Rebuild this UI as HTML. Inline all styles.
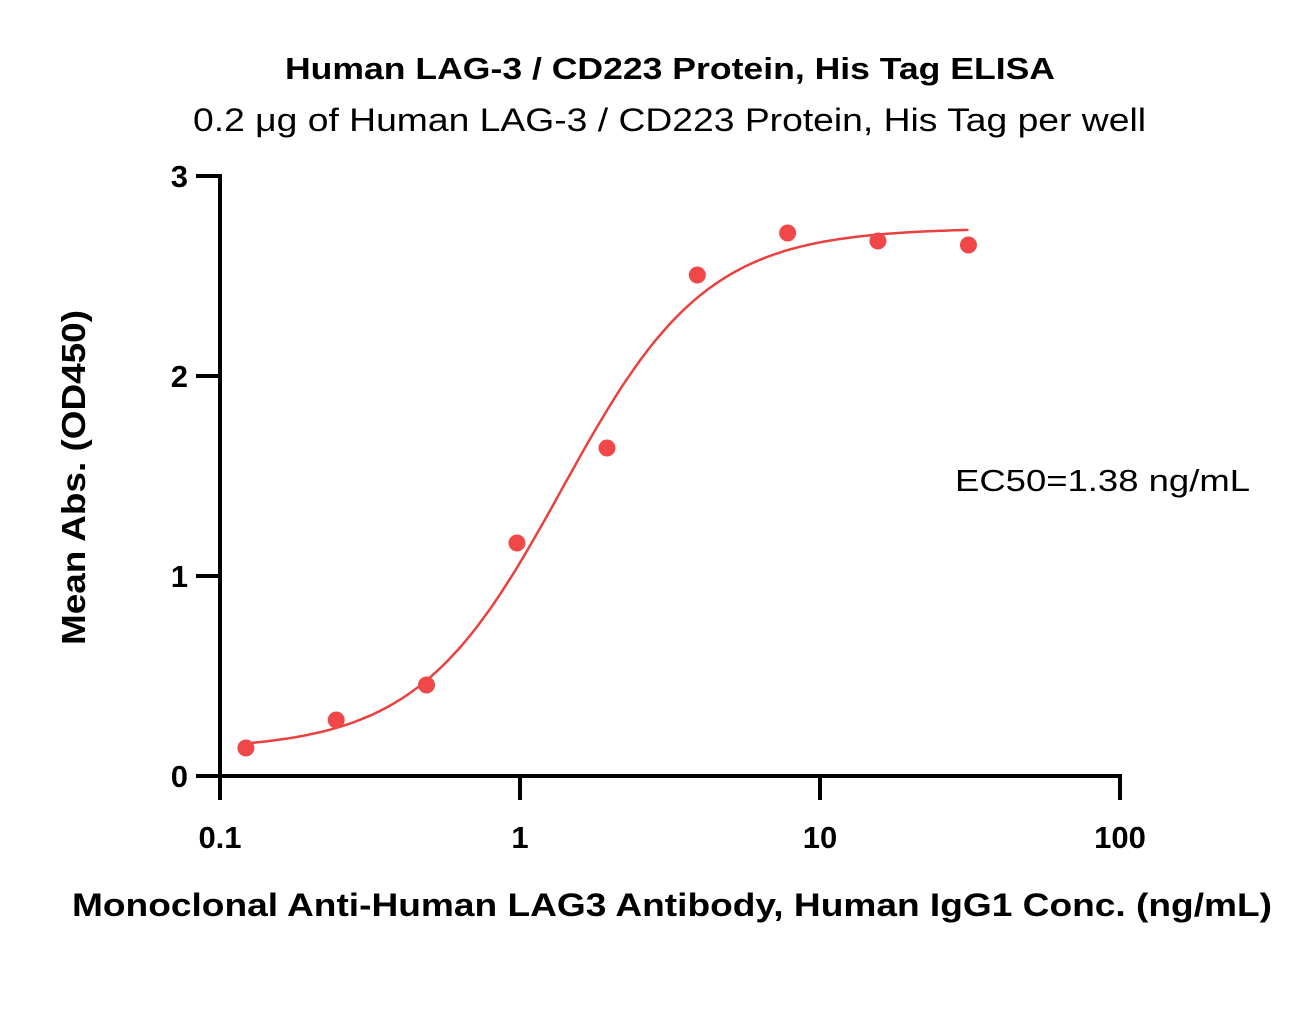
<!DOCTYPE html>
<html><head><meta charset="utf-8"><style>
html,body{margin:0;padding:0;background:#fff;}
svg{display:block;font-family:"Liberation Sans",sans-serif;}
</style></head><body>
<svg id="chart" width="1316" height="1023" viewBox="0 0 1316 1023">
<text x="285" y="79" textLength="770" lengthAdjust="spacingAndGlyphs" font-size="31" font-weight="bold">Human LAG-3 / CD223 Protein, His Tag ELISA</text>
<text x="193" y="131" textLength="953" lengthAdjust="spacingAndGlyphs" font-size="32">0.2 μg of Human LAG-3 / CD223 Protein, His Tag per well</text>
<text transform="translate(85,645) rotate(-90)" textLength="335" lengthAdjust="spacingAndGlyphs" font-size="33" font-weight="bold">Mean Abs. (OD450)</text>
<text x="72" y="916" textLength="1200" lengthAdjust="spacingAndGlyphs" font-size="32" font-weight="bold">Monoclonal Anti-Human LAG3 Antibody, Human IgG1 Conc. (ng/mL)</text>
<text x="955" y="491" textLength="295" lengthAdjust="spacingAndGlyphs" font-size="31">EC50=1.38 ng/mL</text>
<g id="axes"></g>
<g id="plot"></g>
</svg>
<script>
const xValues=[0.122,0.244,0.488,0.977,1.95,3.9,7.8,15.6,31.25];
const yValues=[0.14,0.28,0.455,1.165,1.64,2.505,2.715,2.675,2.655];
const fitParams=[0.13,2.74,1.38,1.8];
const xTicks=[0.1,1,10,100];
const xTickLabels=["0.1","1","10","100"];
const yTicks=[0,1,2,3];
const yTickLabels=["0","1","2","3"];
const NS="http://www.w3.org/2000/svg";
const X0=220,XW=300,Y0=776,YH=200;
function sx(v){return X0+Math.log10(v/0.1)*XW;}
function sy(v){return Y0-v*YH;}
function mk(tag,attrs,parent){const e=document.createElementNS(NS,tag);for(const k in attrs)e.setAttribute(k,attrs[k]);parent.appendChild(e);return e;}
const axesG=document.getElementById('axes'),plotG=document.getElementById('plot');
let ln=mk('line',{x1:X0,y1:sy(3)-2,x2:X0,y2:Y0+2,stroke:'#000','stroke-width':4},axesG);


ln=mk('line',{x1:X0-2,y1:Y0,x2:sx(100)+2,y2:Y0,stroke:'#000','stroke-width':4},axesG);


xTicks.forEach((t,i)=>{
 const tk=mk('line',{x1:sx(t),y1:Y0,x2:sx(t),y2:Y0+24,stroke:'#000','stroke-width':4},axesG);
 
 
 const tx=mk('text',{x:sx(t),y:Y0+72,'text-anchor':'middle','font-size':31,'font-weight':'bold'},axesG);
 tx.textContent=xTickLabels[i];
 
 
});
yTicks.forEach((t,i)=>{
 const tk=mk('line',{x1:X0-24,y1:sy(t),x2:X0,y2:sy(t),stroke:'#000','stroke-width':4},axesG);
 
 
 const tx=mk('text',{x:X0-32,y:sy(t)+11,'text-anchor':'end','font-size':31,'font-weight':'bold'},axesG);
 tx.textContent=yTickLabels[i];
 
 
});
const fBottom=fitParams[0],fTop=fitParams[1],fEc=fitParams[2],fHill=fitParams[3];
let d='';
const lo=Math.log10(xValues[0]),hi=Math.log10(xValues[xValues.length-1]);
for(let i=0;i<=200;i++){const lx=lo+(hi-lo)*i/200,x=Math.pow(10,lx);const y=fBottom+(fTop-fBottom)/(1+Math.pow(fEc/x,fHill));d+=(i?'L':'M')+sx(x).toFixed(1)+','+sy(y).toFixed(1);}
const c=mk('path',{d:d,fill:'none',stroke:'#e8413f','stroke-width':2.5},plotG);


xValues.forEach((x,i)=>{
 const p=mk('circle',{cx:sx(x),cy:sy(yValues[i]),r:8.5,fill:'#f04848'},plotG);
 
 
});
</script>
</body></html>
